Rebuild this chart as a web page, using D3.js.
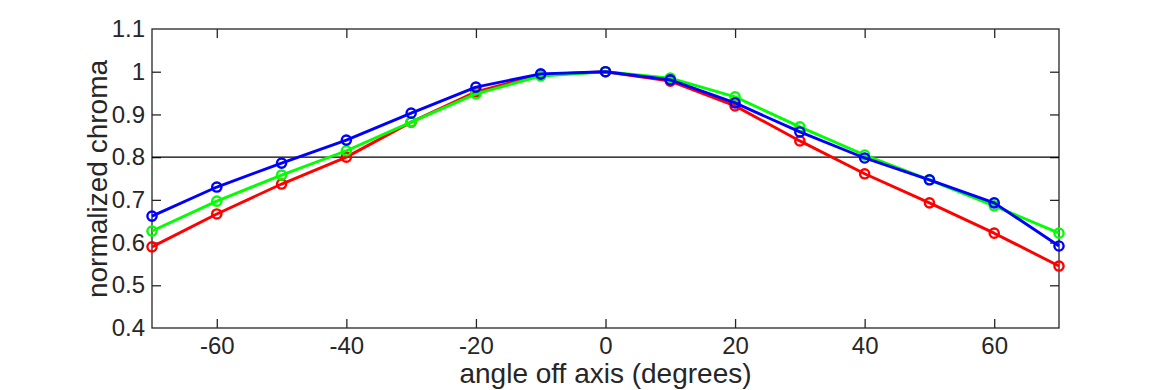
<!DOCTYPE html>
<html>
<head>
<meta charset="utf-8">
<script src="https://cdn.jsdelivr.net/npm/d3@7"></script>
<style>
  html, body { margin: 0; padding: 0; background: #fff; }
  svg { display: block; }
  text { font-family: "Liberation Sans", Arial, Helvetica, sans-serif; fill: #262626; }
</style>
</head>
<body>
<svg id="chart" width="1170" height="390"></svg>
<script>
const angles = [-70, -60, -50, -40, -30, -20, -10, 0, 10, 20, 30, 40, 50, 60, 70];
const redValues   = [0.590, 0.667, 0.737, 0.800, 0.882, 0.953, 0.993, 1.000, 0.978, 0.920, 0.838, 0.761, 0.693, 0.622, 0.545];
const greenValues = [0.627, 0.697, 0.758, 0.815, 0.882, 0.948, 0.990, 1.000, 0.985, 0.941, 0.871, 0.805, 0.747, 0.686, 0.622];
const blueValues  = [0.662, 0.730, 0.786, 0.840, 0.903, 0.964, 0.995, 1.000, 0.981, 0.927, 0.859, 0.798, 0.747, 0.693, 0.592];
const xTicks = [-60, -40, -20, 0, 20, 40, 60];
const yTicks = [0.4, 0.5, 0.6, 0.7, 0.8, 0.9, 1, 1.1];
const thresholdValue = 0.8;

const series = [
  { name: "red", color: "#ff0000", values: redValues },
  { name: "green", color: "#00ff00", values: greenValues },
  { name: "blue", color: "#0000ff", values: blueValues }
];

const mLeft = 152, mRight = 1059, mTop = 29, mBottom = 328;
const svg = d3.select("#chart");
const x = d3.scaleLinear().domain([-70, 70]).range([mLeft, mRight]);
const y = d3.scaleLinear().domain([0.4, 1.1]).range([mBottom, mTop]);

const axisColor = "#262626";
const tickLen = 9;

svg.append("rect").attr("x", mLeft).attr("y", mTop).attr("width", mRight - mLeft).attr("height", mBottom - mTop)
  .attr("fill", "none").attr("stroke", axisColor).attr("stroke-width", 1.3);

const xAxis = svg.append("g").attr("transform", `translate(0,${mBottom})`)
  .call(d3.axisBottom(x).tickValues(xTicks).tickSize(-tickLen).tickPadding(9).tickFormat(d => String(d)));
const xAxisTop = svg.append("g").attr("transform", `translate(0,${mTop})`)
  .call(d3.axisTop(x).tickValues(xTicks).tickSize(-tickLen).tickFormat(""));
const yAxis = svg.append("g").attr("transform", `translate(${mLeft},0)`)
  .call(d3.axisLeft(y).tickValues(yTicks).tickSize(-tickLen).tickPadding(7).tickFormat(d => String(+(+d).toFixed(1))));
const yAxisRight = svg.append("g").attr("transform", `translate(${mRight},0)`)
  .call(d3.axisRight(y).tickValues(yTicks).tickSize(-tickLen).tickFormat(""));

[xAxis, xAxisTop, yAxis, yAxisRight].forEach(g => {
  g.select(".domain").remove();
  g.selectAll(".tick line").attr("stroke", axisColor).attr("stroke-width", 1.3);
  g.selectAll(".tick text").attr("font-size", 24).attr("fill", axisColor)
    .style("font-family", "'Liberation Sans', Arial, sans-serif");
});
yAxis.selectAll(".tick").filter(d => d === 0.4 || d === 1.1).select("line").remove();
yAxisRight.selectAll(".tick").filter(d => d === 0.4 || d === 1.1).select("line").remove();

svg.append("line").attr("x1", mLeft).attr("x2", mRight).attr("y1", y(thresholdValue)).attr("y2", y(thresholdValue))
  .attr("stroke", "#000").attr("stroke-width", 1.3);

const line = d3.line().x((d, i) => x(angles[i])).y(d => y(d));
series.forEach(s => {
  const g = svg.append("g");
  g.append("path").datum(s.values).attr("d", line).attr("fill", "none")
    .attr("stroke", s.color).attr("stroke-width", 2.9).attr("stroke-linejoin", "round");
  g.selectAll("circle").data(s.values).join("circle")
    .attr("cx", (d, i) => x(angles[i])).attr("cy", d => y(d)).attr("r", 4.6)
    .attr("fill", "none").attr("stroke", s.color).attr("stroke-width", 2.4);
});

svg.append("text").attr("x", (mLeft + mRight) / 2).attr("y", 383).attr("text-anchor", "middle")
  .attr("font-size", 28).text("angle off axis (degrees)");
svg.append("text").attr("transform", `translate(107,179) rotate(-90)`).attr("text-anchor", "middle")
  .attr("font-size", 28).text("normalized chroma");
</script>
</body>
</html>
